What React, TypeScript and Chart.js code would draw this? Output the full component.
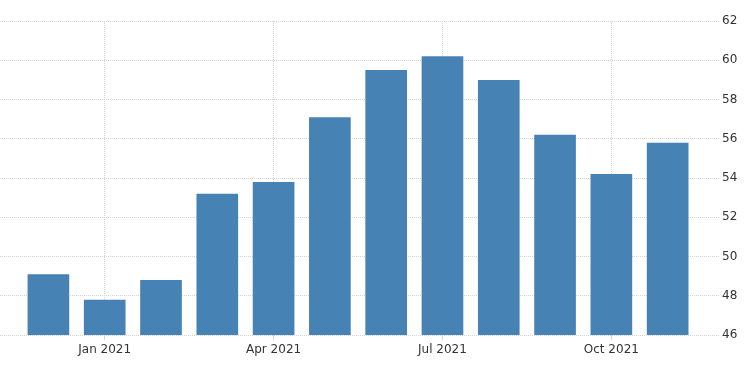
import React, { useEffect, useRef } from "react";
import { Chart, registerables } from "chart.js";

Chart.register(...registerables);

const months = [
  "Dec 2020", "Jan 2021", "Feb 2021", "Mar 2021", "Apr 2021", "May 2021",
  "Jun 2021", "Jul 2021", "Aug 2021", "Sep 2021", "Oct 2021", "Nov 2021",
];
const values = [49.1, 47.8, 48.8, 53.2, 53.8, 57.1, 59.5, 60.2, 59.0, 56.2, 54.2, 55.8];
const xTickLabels = ["Jan 2021", "Apr 2021", "Jul 2021", "Oct 2021"];
const yMin = 46;
const yMax = 62;
const yStep = 2;

export default function App() {
  const ref = useRef<HTMLCanvasElement | null>(null);

  useEffect(() => {
    if (!ref.current) return;
    const font = { family: "'DejaVu Sans', sans-serif", size: 12 };
    const chart = new Chart(ref.current, {
      type: "bar",
      data: {
        datasets: [
          {
            data: values.map((v, i) => ({ x: i, y: v })),
            backgroundColor: "#4682b4",
            borderWidth: 0,
            categoryPercentage: 1,
            barPercentage: 0.74,
          },
        ],
      },
      options: {
        animation: false,
        responsive: true,
        maintainAspectRatio: false,
        layout: { padding: { top: 21, left: 0, right: 0, bottom: 0 } },
        plugins: { legend: { display: false }, tooltip: { enabled: false } },
        scales: {
          x: {
            type: "linear",
            offset: false,
            min: -0.86,
            max: 11.93,
            afterBuildTicks: (scale: any) => {
              scale.ticks = xTickLabels.map((l) => ({ value: months.indexOf(l) }));
            },
            afterFit: (scale: any) => {
              scale.height = 40;
            },
            ticks: {
              callback: (v: any) => months[Number(v)] ?? "",
              color: "#333333",
              font,
              padding: 3,
              maxRotation: 0,
              autoSkip: false,
            },
            grid: {
              offset: false,
              color: "#d4d4d4",
              lineWidth: 1,
              drawTicks: true,
              tickLength: 5,
            },
            border: { display: false, dash: [1, 1] },
          },
          y: {
            position: "right",
            min: yMin,
            max: yMax,
            afterFit: (scale: any) => {
              scale.width = 30;
            },
            ticks: {
              stepSize: yStep,
              color: "#333333",
              font,
              padding: 2,
            },
            grid: {
              color: "#d4d4d4",
              lineWidth: 1,
              drawTicks: false,
            },
            border: { display: false, dash: [1, 1] },
          },
        },
      },
    });
    return () => chart.destroy();
  }, []);

  return (
    <div style={{ position: "fixed", left: 0, top: 0, width: 750, height: 375, background: "#fff" }}>
      <canvas ref={ref} />
    </div>
  );
}
